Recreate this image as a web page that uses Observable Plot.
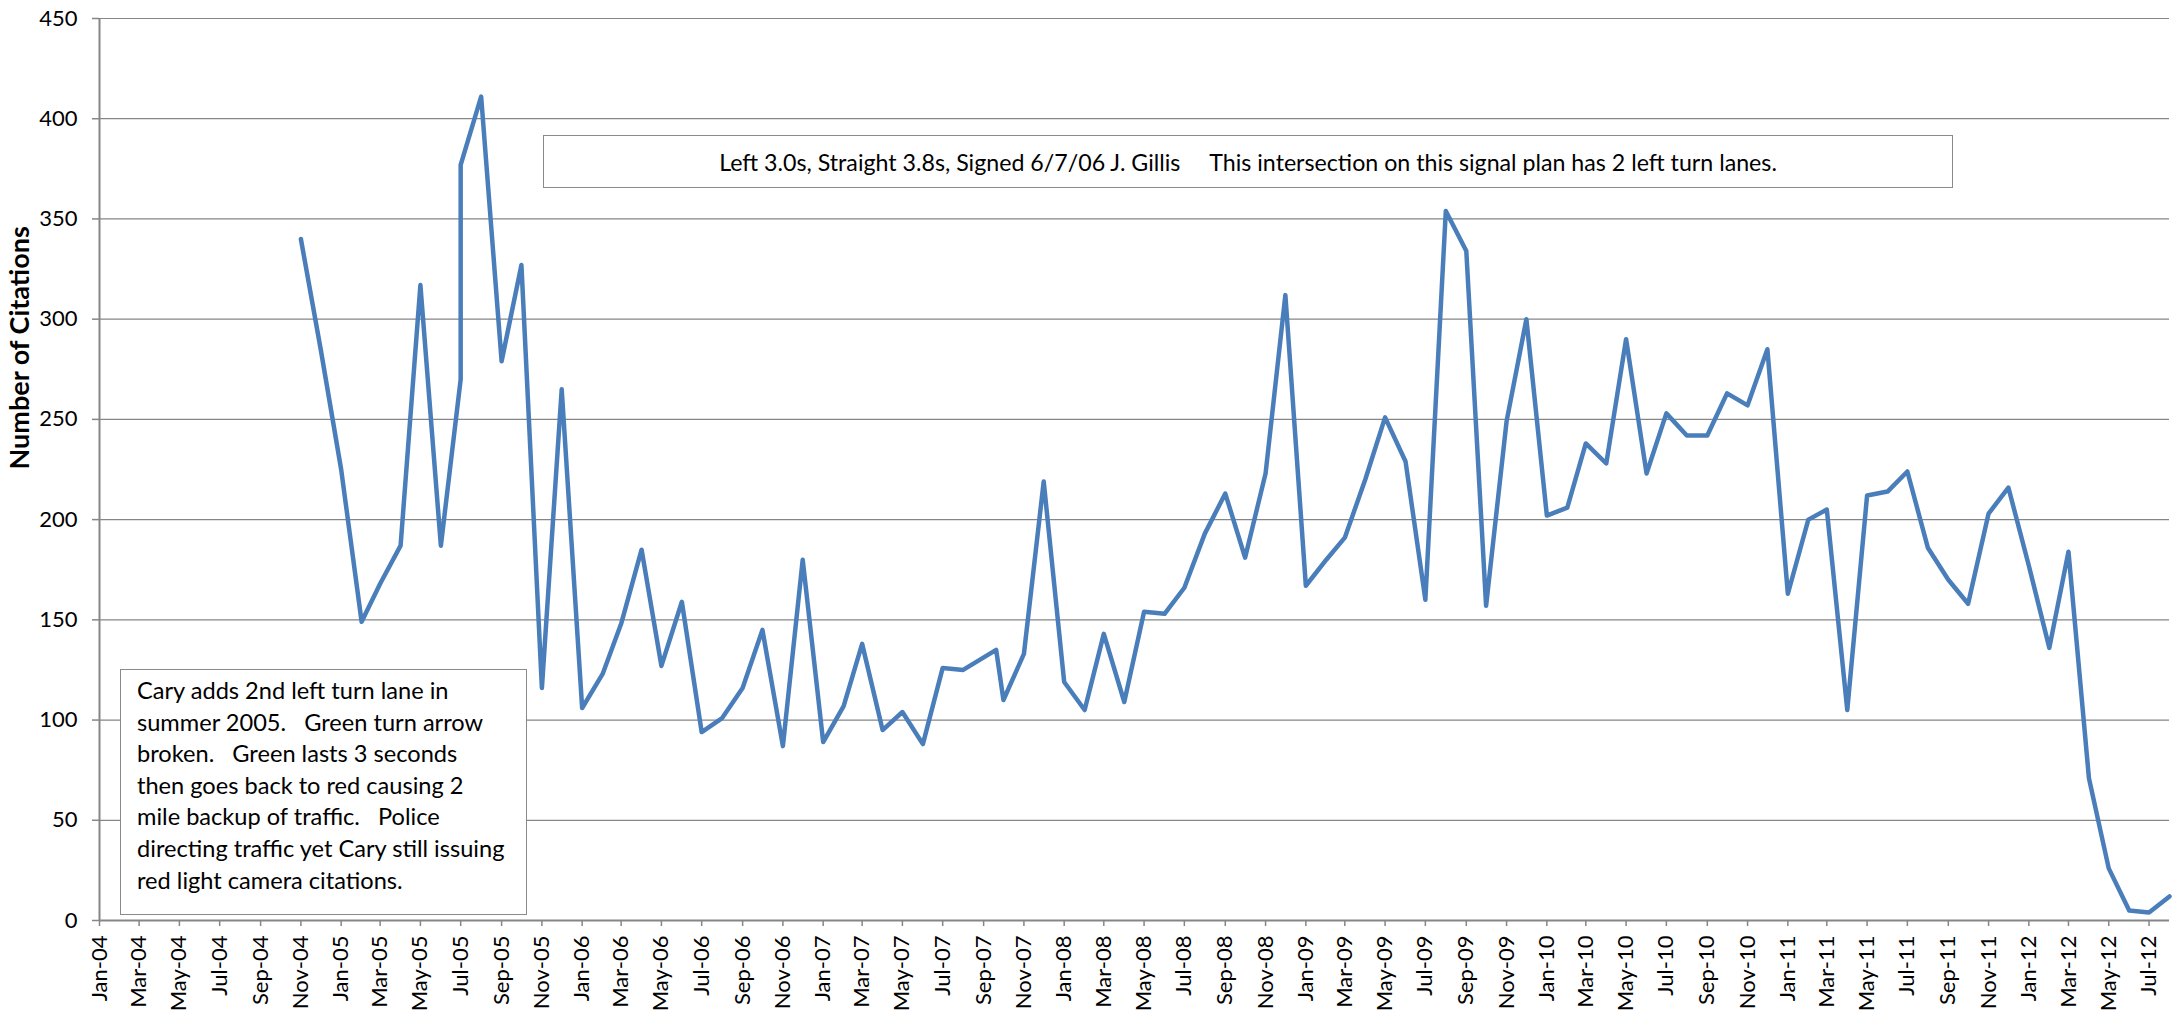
<!DOCTYPE html>
<html>
<head>
<meta charset="utf-8">
<script src="https://cdn.jsdelivr.net/npm/d3@7"></script>
<script src="https://cdn.jsdelivr.net/npm/@observablehq/plot@0.6"></script>
<style>
html, body { margin: 0; padding: 0; background: #fff; }
#wrap { position: relative; width: 2175px; height: 1013px; overflow: hidden; }
.note { position: absolute; box-sizing: border-box; background: #fff; border: 1.5px solid #8a8a8a; color: #000; font-family: Lato, "Open Sans", sans-serif; }
#noteTop { left: 543px; top: 135px; width: 1410px; height: 53px; font-size: 23.2px; display: flex; align-items: center; justify-content: center; white-space: pre; }
#noteLeft { left: 120px; top: 669px; width: 407px; height: 246px; font-size: 23.6px; line-height: 31.6px; padding: 5px 0 0 16px; white-space: nowrap; }
</style>
</head>
<body>
<div id="wrap"></div>
<script>
// ---- data ----
const months = [
  "2004-11-01","2004-12-01","2005-01-01","2005-02-01","2005-03-01","2005-04-01","2005-05-01","2005-06-01",
  "2005-07-01","2005-07-01","2005-08-01","2005-09-01","2005-10-01","2005-11-01","2005-12-01",
  "2006-01-01","2006-02-01","2006-03-01","2006-04-01","2006-05-01","2006-06-01","2006-07-01","2006-08-01",
  "2006-09-01","2006-10-01","2006-11-01","2006-12-01",
  "2007-01-01","2007-02-01","2007-03-01","2007-04-01","2007-05-01","2007-06-01","2007-07-01","2007-08-01",
  "2007-09-20","2007-10-01","2007-11-01","2007-12-01",
  "2008-01-01","2008-02-01","2008-03-01","2008-04-01","2008-05-01","2008-06-01","2008-07-01","2008-08-01",
  "2008-09-01","2008-10-01","2008-11-01","2008-12-01",
  "2009-01-01","2009-02-01","2009-03-01","2009-04-01","2009-05-01","2009-06-01","2009-07-01","2009-08-01",
  "2009-09-01","2009-10-01","2009-11-01","2009-12-01",
  "2010-01-01","2010-02-01","2010-03-01","2010-04-01","2010-05-01","2010-06-01","2010-07-01","2010-08-01",
  "2010-09-01","2010-10-01","2010-11-01","2010-12-01",
  "2011-01-01","2011-02-01","2011-03-01","2011-04-01","2011-05-01","2011-06-01","2011-07-01","2011-08-01",
  "2011-09-01","2011-10-01","2011-11-01","2011-12-01",
  "2012-01-01","2012-02-01","2012-03-01","2012-04-01","2012-05-01","2012-06-01","2012-07-01","2012-08-01"
];
const citations = [
  340, 285, 225, 149, 168, 187, 317, 187,
  270, 377, 411, 279, 327, 116, 265,
  106, 123, 148, 185, 127, 159, 94, 101,
  116, 145, 87, 180,
  89, 107, 138, 95, 104, 88, 126, 125,
  135, 110, 133, 219,
  119, 105, 143, 109, 154, 153, 166, 193,
  213, 181, 223, 312,
  167, 180, 191, 220, 251, 229, 160, 354,
  334, 157, 249, 300,
  202, 206, 238, 228, 290, 223, 253, 242,
  242, 263, 257, 285,
  163, 200, 205, 105, 212, 214, 224, 186,
  170, 158, 203, 216,
  177, 136, 184, 71, 26, 5, 4, 12
];
const xDomain = ["2004-01-01", "2012-08-01"];
const yTicks = [0, 50, 100, 150, 200, 250, 300, 350, 400, 450];
const yTitle = "Number of Citations";
const topNote = "Left 3.0s, Straight 3.8s, Signed 6/7/06 J. Gillis     This intersection on this signal plan has 2 left turn lanes.";
const leftNoteLines = [
  "Cary adds 2nd left turn lane in",
  "summer 2005.   Green turn arrow",
  "broken.   Green lasts 3 seconds",
  "then goes back to red causing 2",
  "mile backup of traffic.   Police",
  "directing traffic yet Cary still issuing",
  "red light camera citations."
];

// ---- build ----
const parse = d3.utcParse("%Y-%m-%d");
const table = months.map((m, i) => ({date: parse(m), value: citations[i]}));
const x0 = parse(xDomain[0]), x1 = parse(xDomain[1]);
const xTicks = d3.utcMonth.every(2).range(x0, x1);
const GRID = "#868686";
const FONT = "Lato, 'Open Sans', sans-serif";

const chart = Plot.plot({
  width: 2175,
  height: 1013,
  marginLeft: 99,
  marginRight: 6,
  marginTop: 18,
  marginBottom: 93,
  style: {fontFamily: FONT, fontSize: "22px", color: "#000", background: "#fff", overflow: "visible"},
  x: {type: "utc", domain: [x0, x1]},
  y: {domain: [0, 450]},
  marks: [
    Plot.ruleY(yTicks, {stroke: GRID, strokeWidth: 1.2}),
    Plot.ruleX([x0], {stroke: GRID, strokeWidth: 2}),
    Plot.ruleY([0], {stroke: GRID, strokeWidth: 2}),
    Plot.axisY({ticks: yTicks, tickSize: 7, tickPadding: 15, stroke: GRID, strokeWidth: 1.5, label: null, fontSize: 22}),
    Plot.axisX({ticks: xTicks, tickFormat: d3.utcFormat("%b-%y"), tickRotate: -90, tickSize: 6, tickPadding: 9,
                stroke: GRID, strokeWidth: 1.5, label: null, fontSize: 22}),
    Plot.text([yTitle], {text: d => d, frameAnchor: "left", rotate: -90, dx: -79,
                         fontWeight: "bold", fontSize: 27, fill: "#000"}),
    Plot.line(table, {x: "date", y: "value", stroke: "#4A7EBB", strokeWidth: 4.5,
                      strokeLinejoin: "round", strokeLinecap: "round"})
  ]
});

const wrap = document.getElementById("wrap");
wrap.appendChild(chart);

const noteTopEl = document.createElement("div");
noteTopEl.className = "note";
noteTopEl.id = "noteTop";
noteTopEl.textContent = topNote;
wrap.appendChild(noteTopEl);

const noteLeftEl = document.createElement("div");
noteLeftEl.className = "note";
noteLeftEl.id = "noteLeft";
leftNoteLines.forEach(line => {
  const div = document.createElement("div");
  div.textContent = line;
  div.style.whiteSpace = "pre";
  noteLeftEl.appendChild(div);
});
wrap.appendChild(noteLeftEl);
</script>
</body>
</html>
